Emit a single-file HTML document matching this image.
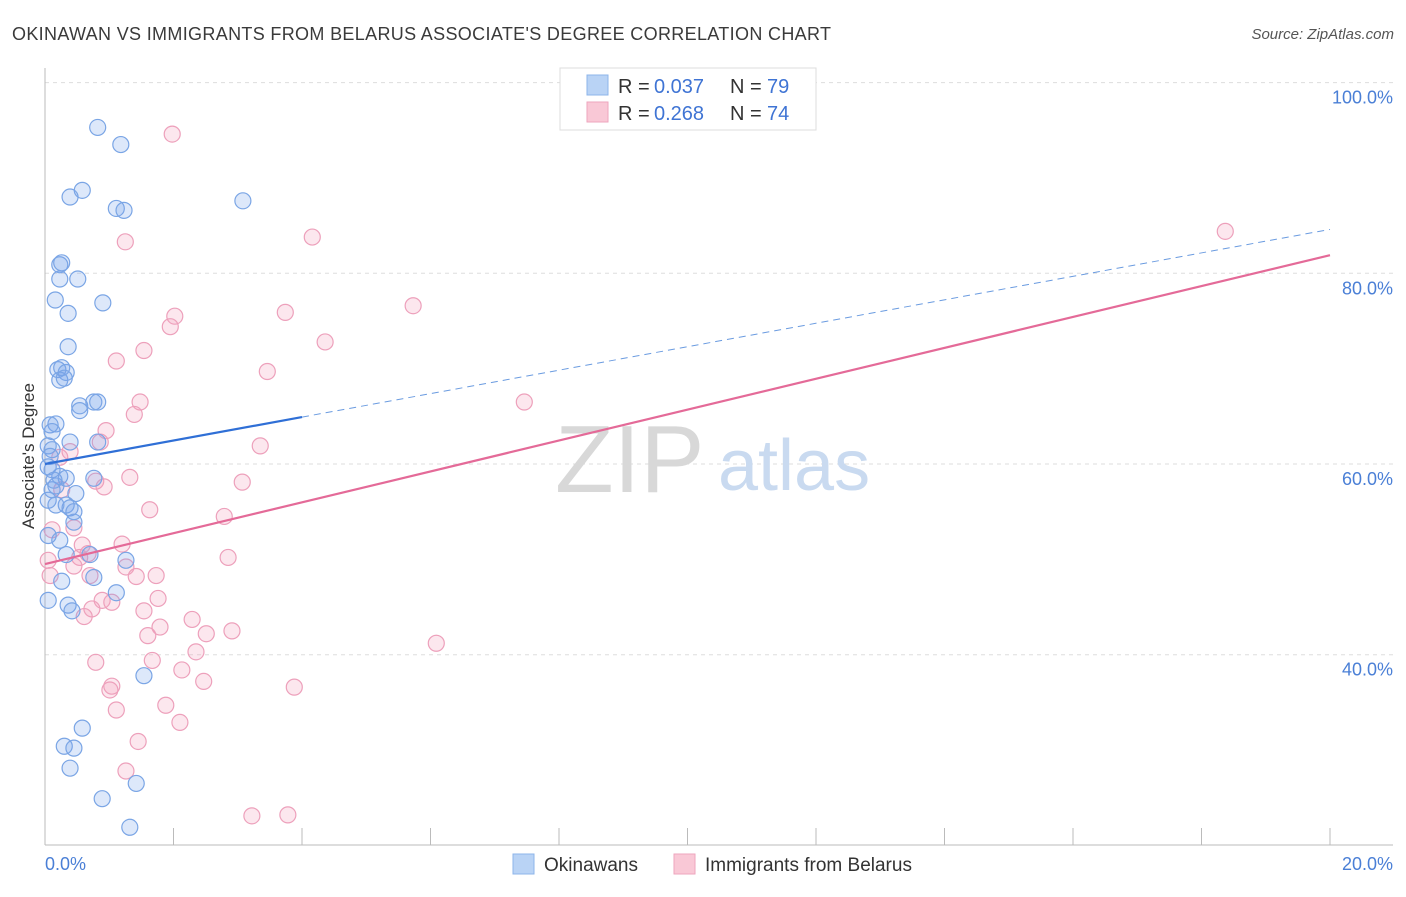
<!DOCTYPE html>
<html><head><meta charset="utf-8"><style>
body{margin:0;background:#fff;font-family:"Liberation Sans",sans-serif;}
svg text{font-family:"Liberation Sans",sans-serif;}
</style></head><body>
<svg id="chart" width="1406" height="892" viewBox="0 0 1406 892" xmlns="http://www.w3.org/2000/svg">
<text x="12" y="40" font-size="18" fill="#3a3a3a" textLength="819" lengthAdjust="spacing">OKINAWAN VS IMMIGRANTS FROM BELARUS ASSOCIATE'S DEGREE CORRELATION CHART</text>
<text x="1394" y="39" font-size="15" fill="#555" font-style="italic" text-anchor="end">Source: ZipAtlas.com</text>
<g id="grid"></g>
<g>
<text x="555" y="492" font-size="96" fill="#d8d8d8" font-family="Liberation Serif,serif">ZIP</text>
<text x="718" y="490" font-size="72" fill="#c9daf0">atlas</text>
</g>
<g id="axes"></g>
<g id="pts"></g>
<g id="lines"></g>
<text transform="translate(34,456) rotate(-90)" font-size="17" fill="#333" text-anchor="middle">Associate's Degree</text>
<text x="45" y="870" font-size="18" fill="#4a7fd6">0.0%</text>
<text x="1393" y="870" font-size="18" fill="#4a7fd6" text-anchor="end">20.0%</text>
<g>
<rect x="560" y="68" width="256" height="62" fill="#fff" stroke="#ddd"/>
<rect x="587" y="75" width="21" height="20" fill="#b9d3f5" stroke="#8db4ea"/>
<rect x="587" y="102" width="21" height="20" fill="#f9c8d6" stroke="#eea6be"/>
<text x="618" y="93" font-size="20" fill="#333">R =</text>
<text x="654" y="93" font-size="20" fill="#3f74d4">0.037</text>
<text x="730" y="93" font-size="20" fill="#333">N =</text>
<text x="767" y="93" font-size="20" fill="#3f74d4">79</text>
<text x="618" y="120" font-size="20" fill="#333">R =</text>
<text x="654" y="120" font-size="20" fill="#3f74d4">0.268</text>
<text x="730" y="120" font-size="20" fill="#333">N =</text>
<text x="767" y="120" font-size="20" fill="#3f74d4">74</text>
</g>
<g>
<rect x="513" y="854" width="21" height="20" fill="#b9d3f5" stroke="#8db4ea"/>
<text x="544" y="871" font-size="19" fill="#333">Okinawans</text>
<rect x="674" y="854" width="21" height="20" fill="#f9c8d6" stroke="#eea6be"/>
<text x="705" y="871" font-size="19" fill="#333">Immigrants from Belarus</text>
</g>
</svg>
<script>
const blueX=[.82,1.18,.58,.39,1.11,1.23,3.08,.23,.26,.51,.23,.16,.90,.36,.36,.20,.26,.33,.23,.30,.76,.54,.82,.54,.17,.08,.11,.39,.82,.05,.11,.08,.23,.33,.76,.17,.11,.48,.05,.33,.39,.45,.45,.23,.05,.33,.70,1.26,.76,.26,1.11,.05,.36,.42,1.54,.58,.30,.45,.39,.89,1.42,1.32,.05,.11,.17,.14];
const blueY=[95.3,93.5,88.7,88.0,86.8,86.6,87.6,80.9,81.1,79.4,79.4,77.2,76.9,75.8,72.3,69.9,70.1,69.6,68.8,69.0,66.5,66.1,66.5,65.6,64.2,64.1,63.4,62.3,62.3,61.9,61.5,60.8,58.7,58.5,58.5,57.7,57.3,56.9,56.2,55.7,55.4,55.0,53.9,52.0,52.5,50.5,50.5,49.9,48.1,47.7,46.5,45.7,45.2,44.6,37.8,32.3,30.4,30.2,28.1,24.9,26.5,21.9,59.7,59.4,55.7,58.3];
const pinkX=[1.98,18.37,4.16,1.25,5.73,3.74,2.02,1.95,4.36,1.54,1.11,3.46,1.48,7.46,1.39,.95,.86,3.35,.39,.23,1.32,.79,.92,3.07,1.63,2.79,.45,1.20,.11,.58,.67,2.85,.54,1.26,.45,1.42,1.73,.70,.89,1.76,1.04,1.54,.73,.61,2.29,1.79,2.51,2.91,1.60,6.09,2.35,.79,1.67,2.13,2.47,3.88,1.04,1.01,1.88,1.11,2.10,1.45,1.26,3.22,3.78,.05,.08,.26];
const pinkY=[94.6,84.4,83.8,83.3,76.6,75.9,75.5,74.4,72.8,71.9,70.8,69.7,66.5,66.5,65.2,63.5,62.3,61.9,61.3,60.7,58.6,58.2,57.6,58.1,55.2,54.5,53.3,51.6,53.1,51.5,50.6,50.2,50.2,49.2,49.3,48.2,48.3,48.3,45.7,45.9,45.5,44.6,44.8,44.0,43.7,42.9,42.2,42.5,42.0,41.2,40.3,39.2,39.4,38.4,37.2,36.6,36.7,36.3,34.7,34.2,32.9,30.9,27.8,23.1,23.2,49.9,48.3,57.3];
const blueTrend=[60.0,84.6]; const blueSolidEnd=4.0;
const pinkTrend=[49.5,81.9];
const yTicks=[100,80,60,40]; const yTickLabels=["100.0%","80.0%","60.0%","40.0%"];
const xTicks=[0,2,4,6,8,10,12,14,16,18,20];
const NS="http://www.w3.org/2000/svg";
const sx=v=>45+v*64.25, sy=v=>82.6+(100-v)*9.535;
function mk(t,a,p){const e=document.createElementNS(NS,t);for(const k in a)e.setAttribute(k,a[k]);p.appendChild(e);return e;}
const grid=document.getElementById('grid'),axes=document.getElementById('axes'),pts=document.getElementById('pts'),lines=document.getElementById('lines');
yTicks.forEach((v,i)=>{
 const l=mk('line',{x1:45,x2:1393,y1:sy(v),y2:sy(v),stroke:'#ddd','stroke-dasharray':'4,4'},grid);
 
 
 const t=mk('text',{x:1393,y:sy(v)+21,'font-size':18,fill:'#4a7fd6','text-anchor':'end'},axes);
 t.textContent=yTickLabels[i];
 
 
});
mk('line',{x1:45,x2:45,y1:68,y2:845,stroke:'#bbb'},axes);
mk('line',{x1:45,x2:1393,y1:845,y2:845,stroke:'#bbb'},axes);
xTicks.forEach(v=>{const t=mk('line',{x1:sx(v),x2:sx(v),y1:828,y2:845,stroke:'#bbb'},axes);
 
 });
pinkX.forEach((x,i)=>{const c=mk('circle',{cx:sx(x),cy:sy(pinkY[i]),r:8,fill:'rgba(244,160,188,0.25)',stroke:'#eda0bb','stroke-width':1.2},pts);
 
 });
blueX.forEach((x,i)=>{const c=mk('circle',{cx:sx(x),cy:sy(blueY[i]),r:8,fill:'rgba(120,165,235,0.25)',stroke:'#7aa5e5','stroke-width':1.2},pts);
 
 });
const bAt=x=>blueTrend[0]+(blueTrend[1]-blueTrend[0])*x/20;
let l1=mk('line',{x1:sx(0),y1:sy(bAt(0)),x2:sx(blueSolidEnd),y2:sy(bAt(blueSolidEnd)),stroke:'#2f6fd6','stroke-width':2.2},lines);


let l2=mk('line',{x1:sx(blueSolidEnd),y1:sy(bAt(blueSolidEnd)),x2:sx(20),y2:sy(bAt(20)),stroke:'#6a9be0','stroke-width':1,'stroke-dasharray':'7,5'},lines);


let l3=mk('line',{x1:sx(0),y1:sy(pinkTrend[0]),x2:sx(20),y2:sy(pinkTrend[1]),stroke:'#e46a98','stroke-width':2.2},lines);


</script>
</body></html>
